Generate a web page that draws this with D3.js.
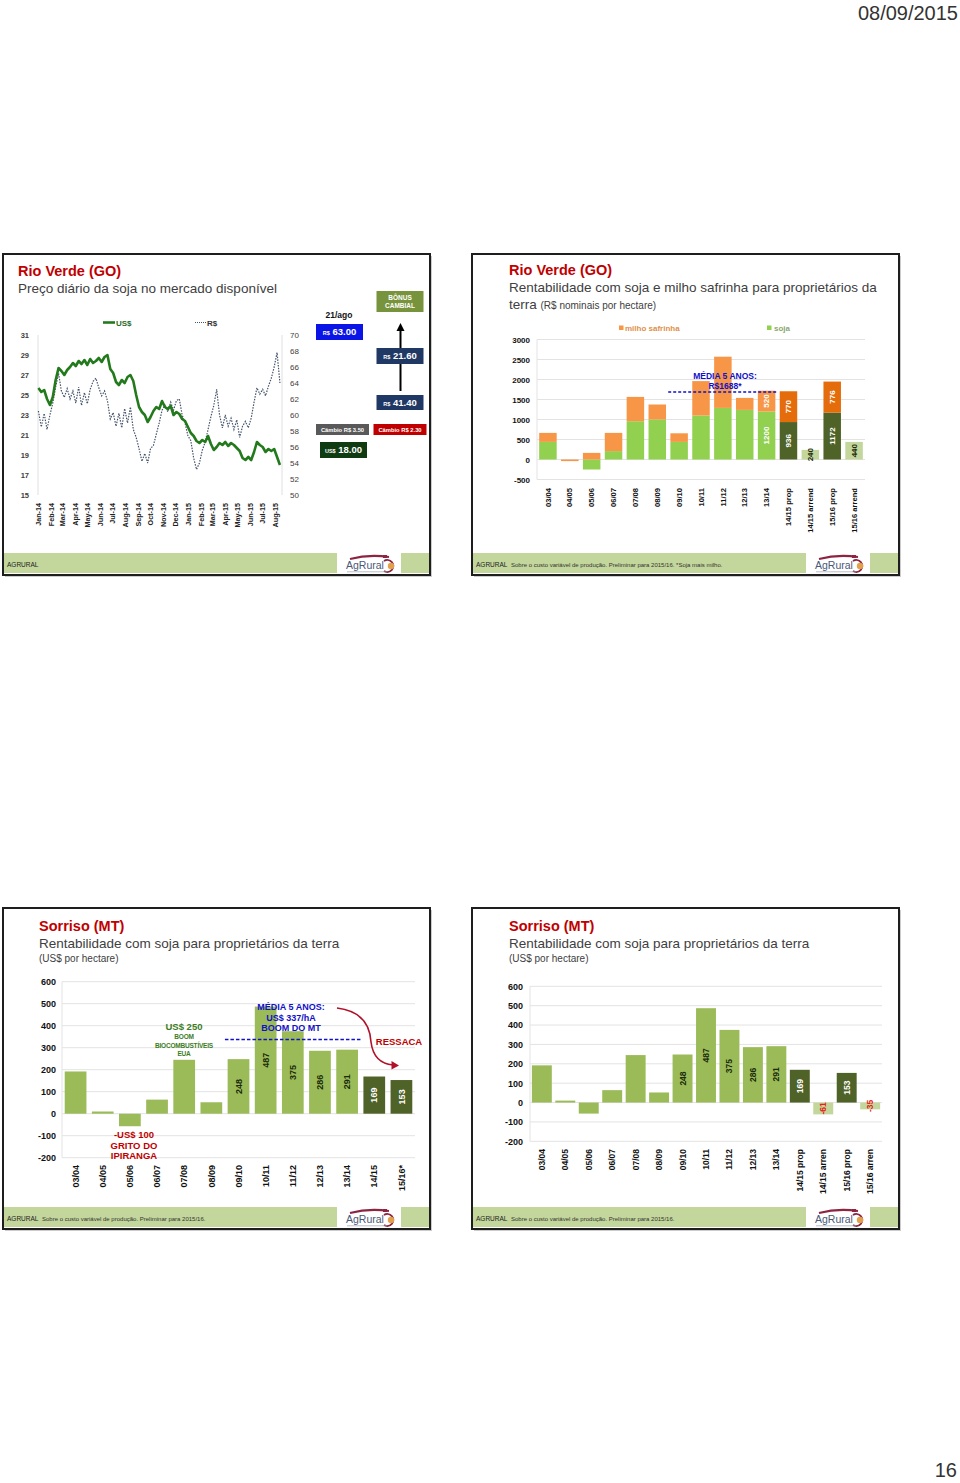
<!DOCTYPE html>
<html>
<head>
<meta charset="utf-8">
<script src="https://cdn.jsdelivr.net/npm/d3@7"></script>
<style>
  body { margin: 0; background: #fff; }
  svg { display: block; font-family: Arial, "Liberation Sans", sans-serif; }
</style>
</head>
<body>
<svg id="page" width="960" height="1483"></svg>
<script>
// ---- data ----
const pageDate = '08/09/2015'
const pageNumber = '16'

// slide 1: daily price (sampled weekly), from 2 Jan 2014
const months = ['Jan-14','Feb-14','Mar-14','Apr-14','May-14','Jun-14','Jul-14','Aug-14','Sep-14','Oct-14',
  'Nov-14','Dec-14','Jan-15','Feb-15','Mar-15','Apr-15','May-15','Jun-15','Jul-15','Aug-15']
const usdWeekly = [25.7,25.3,25.5,24.6,24.0,24.8,26.5,27.7,27.4,27.0,
  27.5,27.8,28.2,27.9,28.4,28.1,28.5,28.0,28.6,28.2,
  28.4,28.7,28.3,28.8,29.0,27.6,27.2,26.3,26.0,26.5,
  26.2,26.8,27.0,26.4,25.0,23.8,23.3,23.0,22.3,22.8,
  23.4,23.8,23.6,24.4,23.8,23.6,23.9,23.0,23.3,23.1,
  22.6,22.4,21.8,21.2,20.9,20.4,20.2,20.5,20.3,20.9,
  20.1,19.5,19.8,20.2,20.0,20.3,19.9,20.2,20.0,19.7,
  19.4,18.7,18.5,18.8,18.5,19.3,20.3,20.0,19.8,19.3,
  19.6,19.4,19.6,18.8,18.0]
const brlWeekly = [60.5,58.5,60.2,58.2,60.0,61.5,63.5,65.2,63.0,62.2,
  63.3,62.0,63.0,61.5,63.5,61.2,62.8,61.4,63.2,64.2,
  64.6,63.4,62.4,63.0,61.8,59.5,60.3,58.6,60.2,58.4,
  60.8,59.0,61.0,58.2,57.2,55.8,54.2,55.2,54.0,55.8,
  56.2,57.6,59.0,60.6,61.2,60.4,61.6,60.6,61.8,62.0,
  60.0,59.0,57.4,56.8,54.6,53.2,54.0,55.6,56.6,58.2,
  59.8,61.2,63.2,60.0,58.4,60.0,58.6,59.6,58.2,59.4,
  57.2,58.6,59.2,58.4,59.6,61.6,63.4,62.6,63.2,62.4,
  63.6,64.6,66.0,67.8,64.0]
const usdTicks = [15,17,19,21,23,25,27,29,31]
const brlTicks = [50,52,54,56,58,60,62,64,66,68,70]

// slide 2: Rio Verde, R$/ha
const rvSeasons = ['03/04','04/05','05/06','06/07','07/08','08/09','09/10','10/11','11/12','12/13','13/14',
  '14/15 prop','14/15 arrend','15/16 prop','15/16 arrend']
const rvSoja  = [440, 0, -250, 210, 957, 1000, 440, 1100, 1290, 1240, 1200, 936, 240, 1172, 440]
const rvMilho = [225, -40, 165, 455, 608, 375, 215, 860, 1280, 300, 520, 770, 0, 776, 0]
const rvKind  = ['h','h','h','h','h','h','h','h','h','h','h','prop','arrend','prop','arrend']
const rvLabeled = ['13/14','14/15 prop','14/15 arrend','15/16 prop','15/16 arrend']
const rvTicks = [-500,0,500,1000,1500,2000,2500,3000]
const rvMedia = 1688

// slide 3: Sorriso, US$/ha
const srSeasons = ['03/04','04/05','05/06','06/07','07/08','08/09','09/10','10/11','11/12','12/13','13/14','14/15','15/16*']
const srValues  = [192, 10, -57, 64, 245, 52, 248, 487, 375, 286, 291, 169, 153]
const srKind    = ['h','h','h','h','h','h','h','h','h','h','h','prop','prop']
const srMedia = 337

// slide 4: Sorriso, prop vs arren
const sr2Seasons = ['03/04','04/05','05/06','06/07','07/08','08/09','09/10','10/11','11/12','12/13','13/14',
  '14/15 prop','14/15 arren','15/16 prop','15/16 arren']
const sr2Values  = [192, 10, -57, 64, 245, 52, 248, 487, 375, 286, 291, 169, -61, 153, -35]
const sr2Kind    = ['h','h','h','h','h','h','h','h','h','h','h','prop','arrend','prop','arrend']
const srTicks = [-200,-100,0,100,200,300,400,500,600]
const labeledFrom = '09/10'

// ---- drawing ----
const svg = d3.select('#page')
const font = 'Arial, "Liberation Sans", sans-serif'
const red = '#c00000'
const blue = '#1010c8'
const plain = d => String(d).replace('\u2212', '-')

svg.append('text').attr('x', 958).attr('y', 20).attr('text-anchor', 'end')
  .attr('font-size', 20).attr('fill', '#333').text(pageDate)
svg.append('text').attr('x', 957).attr('y', 1477).attr('text-anchor', 'end')
  .attr('font-size', 20).attr('fill', '#333').text(pageNumber)

logo = (g, x, y) => {
  g.append('rect').attr('x', x).attr('y', y).attr('width', 64).attr('height', 21).attr('fill', '#fff')
  g.append('path')
    .attr('d', `M${x+13},${y+6} Q${x+32},${y+1} ${x+52},${y+4}`)
    .attr('fill', 'none').attr('stroke', '#8c2442').attr('stroke-width', 2)
  g.append('rect').attr('x', x+46).attr('y', y+2).attr('width', 4).attr('height', 3).attr('fill', '#8c2442')
  g.append('text').attr('x', x+9).attr('y', y+16).attr('font-size', 10.5)
    .attr('fill', '#4a5878').text('AgRural')
  g.append('path')
    .attr('d', `M${x+47},${y+8} A6,6 0 1,1 ${x+47},${y+18}`)
    .attr('fill', 'none').attr('stroke', '#8c2442').attr('stroke-width', 1.8)
  g.append('circle').attr('cx', x+54).attr('cy', y+13).attr('r', 3.2).attr('fill', '#e2a04a')
  g.append('line').attr('x1', x+10).attr('x2', x+50).attr('y1', y+18.8).attr('y2', y+18.8)
    .attr('stroke', '#9aa3b5').attr('stroke-width', 0.7)
}

slide = (x0, y0, footer, logoX) => {
  const g = svg.append('g')
  g.append('rect').attr('x', x0+2).attr('y', y0+2).attr('width', 427).attr('height', 321).attr('fill', '#ccc')
  g.append('rect').attr('x', x0).attr('y', y0).attr('width', 427).attr('height', 321)
    .attr('fill', '#fff').attr('stroke', '#1e1e1e').attr('stroke-width', 2)
  g.append('rect').attr('x', x0+1).attr('y', y0+299).attr('width', 425).attr('height', 20).attr('fill', '#c3d69b')
  g.append('text').attr('x', x0+4).attr('y', y0+313).attr('font-size', 6.5).attr('fill', '#222').text('AGRURAL')
  if (footer) {
    g.append('text').attr('x', x0+39).attr('y', y0+313).attr('font-size', 6)
      .attr('fill', '#333').text(footer)
  }
  logo(g, logoX, y0+299)
  return g
}

titles = (g, x, y, title, sub) => {
  g.append('text').attr('x', x).attr('y', y).attr('font-size', 14.5).attr('font-weight', 'bold')
    .attr('fill', red).text(title)
  g.append('text').attr('x', x).attr('y', y+17).attr('font-size', 13.5).attr('fill', '#404040').text(sub)
}

// ===== slide 1 =====
const s1 = slide(3, 254, null, 337)
titles(s1, 18, 276, 'Rio Verde (GO)', 'Preço diário da soja no mercado disponível')

const x1 = d3.scaleTime().domain([new Date(2014, 0, 1), new Date(2015, 7, 1)]).range([38, 275])
const yL = d3.scaleLinear().domain([15, 31]).range([495, 335])
const yR = d3.scaleLinear().domain([50, 70]).range([495, 335])
const start = new Date(2014, 0, 2)
const usdSeries = usdWeekly.map((v, i) => ({ date: d3.timeDay.offset(start, 7 * i), v }))
const brlSeries = brlWeekly.map((v, i) => ({ date: d3.timeDay.offset(start, 7 * i), v }))

s1.append('line').attr('x1', 38).attr('x2', 38).attr('y1', 335).attr('y2', 495).attr('stroke', '#e0e0e0')
s1.append('line').attr('x1', 282).attr('x2', 282).attr('y1', 335).attr('y2', 495).attr('stroke', '#e0e0e0')

const axL = s1.append('g').attr('transform', 'translate(38,0)')
  .call(d3.axisLeft(yL).tickValues(usdTicks).tickFormat(plain).tickSize(0).tickPadding(9))
axL.select('.domain').remove()
axL.selectAll('text').attr('font-size', 7.5).attr('font-weight', 'bold').attr('font-family', font).attr('fill', '#404040')

const axR = s1.append('g').attr('transform', 'translate(282,0)')
  .call(d3.axisRight(yR).tickValues(brlTicks).tickFormat(plain).tickSize(0).tickPadding(8))
axR.select('.domain').remove()
axR.selectAll('text').attr('font-size', 8).attr('font-family', font).attr('fill', '#404040')

const axX1 = s1.append('g').attr('transform', 'translate(0,496)')
  .call(d3.axisBottom(x1).tickValues(d3.timeMonth.range(new Date(2014, 0, 1), new Date(2015, 8, 1)))
    .tickFormat((d, i) => months[i]).tickSize(0))
axX1.select('.domain').remove()
axX1.selectAll('text')
  .attr('transform', 'rotate(-90)').attr('text-anchor', 'end')
  .attr('x', -7).attr('y', 0).attr('dy', '0.35em')
  .attr('font-size', 7.2).attr('font-weight', 'bold').attr('font-family', font).attr('fill', '#222')

s1.append('path').datum(brlSeries)
  .attr('d', d3.line().x(d => x1(d.date)).y(d => yR(d.v)))
  .attr('fill', 'none').attr('stroke', '#44546a').attr('stroke-width', 1.2).attr('stroke-dasharray', '1.5,1.3')
s1.append('path').datum(usdSeries)
  .attr('d', d3.line().x(d => x1(d.date)).y(d => yL(d.v)))
  .attr('fill', 'none').attr('stroke', '#237a1d').attr('stroke-width', 2.6).attr('stroke-linejoin', 'round')

// legend
s1.append('line').attr('x1', 103).attr('x2', 115).attr('y1', 322.5).attr('y2', 322.5)
  .attr('stroke', '#237a1d').attr('stroke-width', 2.6)
s1.append('text').attr('x', 116).attr('y', 325.5).attr('font-size', 8).attr('font-weight', 'bold')
  .attr('fill', '#2a6a1f').text('US$')
s1.append('line').attr('x1', 195).attr('x2', 206).attr('y1', 322.5).attr('y2', 322.5)
  .attr('stroke', '#44546a').attr('stroke-width', 1).attr('stroke-dasharray', '1,1')
s1.append('text').attr('x', 207).attr('y', 325.5).attr('font-size', 8).attr('font-weight', 'bold')
  .attr('fill', '#333').text('R$')

// annotation boxes
moneyBox = (g, x, y, w, h, fill, cur, val) => {
  g.append('rect').attr('x', x).attr('y', y).attr('width', w).attr('height', h).attr('fill', fill)
  const t = g.append('text').attr('x', x + w / 2).attr('y', y + h / 2 + 3.4).attr('text-anchor', 'middle')
    .attr('fill', '#fff').attr('font-weight', 'bold')
  t.append('tspan').attr('font-size', 5.5).text(cur)
  t.append('tspan').attr('font-size', 9.5).text(' ' + val)
}
smallBox = (g, x, y, w, h, fill, lines) => {
  g.append('rect').attr('x', x).attr('y', y).attr('width', w).attr('height', h).attr('fill', fill)
  lines.forEach((s, i) => {
    g.append('text').attr('x', x + w / 2).attr('y', y + 7.5 + i * 8.5 + (lines.length === 1 ? 0 : 1))
      .attr('text-anchor', 'middle').attr('font-size', lines.length === 1 ? 5.8 : 6.5).attr('font-weight', 'bold')
      .attr('fill', '#fff').text(s)
  })
}

s1.append('text').attr('x', 339).attr('y', 318).attr('text-anchor', 'middle').attr('font-size', 8.5)
  .attr('font-weight', 'bold').attr('fill', '#111').text('21/ago')
moneyBox(s1, 316, 324, 47, 16, '#0a14e6', 'R$', '63.00')
smallBox(s1, 376.5, 291, 47, 21, '#77933c', ['BÔNUS', 'CAMBIAL'])
s1.append('line').attr('x1', 400.5).attr('x2', 400.5).attr('y1', 391).attr('y2', 329)
  .attr('stroke', '#000').attr('stroke-width', 2)
s1.append('path').attr('d', 'M400.5,323 L396.5,331 L404.5,331 Z').attr('fill', '#000')
moneyBox(s1, 376.5, 348, 47, 16, '#1f3864', 'R$', '21.60')
moneyBox(s1, 376.5, 395, 47, 15, '#1f3864', 'R$', '41.40')
smallBox(s1, 316, 424, 53, 11, '#595959', ['Câmbio R$ 3.50'])
smallBox(s1, 373.5, 424, 53, 11, red, ['Câmbio R$ 2.30'])
moneyBox(s1, 320, 442, 47, 16, '#0e3b12', 'US$', '18.00')

// ===== bar helpers =====
yAxisGrid = (g, y, ticks, x0, x1r, size, pad) => {
  g.append('g').selectAll('line').data(ticks).join('line')
    .attr('x1', x0).attr('x2', x1r).attr('y1', d => y(d)).attr('y2', d => y(d))
    .attr('stroke', '#e3e3e3')
  g.append('line').attr('x1', x0).attr('x2', x0).attr('y1', y(ticks[0])).attr('y2', y(ticks[ticks.length - 1]))
    .attr('stroke', '#e3e3e3')
  const ax = g.append('g').attr('transform', `translate(${x0},0)`)
    .call(d3.axisLeft(y).tickValues(ticks).tickFormat(plain).tickSize(0).tickPadding(pad))
  ax.select('.domain').remove()
  ax.selectAll('text').attr('font-size', size).attr('font-weight', 'bold').attr('font-family', font).attr('fill', '#111')
}
xAxisRot = (g, x, yPos, size) => {
  const ax = g.append('g').attr('transform', `translate(0,${yPos})`)
    .call(d3.axisBottom(x).tickSize(0))
  ax.select('.domain').remove()
  ax.selectAll('text')
    .attr('transform', 'rotate(-90)').attr('text-anchor', 'end')
    .attr('x', 0).attr('y', 0).attr('dy', '0.35em')
    .attr('font-size', size).attr('font-weight', 'bold').attr('font-family', font).attr('fill', '#111')
}
barLabel = (g, cx, cy, txt, fill, size) => {
  g.append('text').attr('transform', `translate(${cx},${cy}) rotate(-90)`)
    .attr('text-anchor', 'middle').attr('dy', '0.35em')
    .attr('font-size', size).attr('font-weight', 'bold').attr('fill', fill).text(txt)
}

// ===== slide 2 =====
const s2 = slide(472, 254, 'Sobre o custo variável de produção. Preliminar para 2015/16. *Soja mais milho.', 806)
titles(s2, 509, 275, 'Rio Verde (GO)', 'Rentabilidade com soja e milho safrinha para proprietários da')
const sub2 = s2.append('text').attr('x', 509).attr('y', 309).attr('fill', '#404040')
sub2.append('tspan').attr('font-size', 13.5).text('terra ')
sub2.append('tspan').attr('font-size', 10).text('(R$ nominais por hectare)')

const xRv = d3.scaleBand().domain(rvSeasons).range([537, 865]).paddingInner(0.2).paddingOuter(0.1)
const yRv = d3.scaleLinear().domain([-500, 3000]).range([479.5, 339.5])
yAxisGrid(s2, yRv, rvTicks, 537, 865, 8, 7)

const rvRows = rvSeasons.map((s, i) => ({ season: s, soja: rvSoja[i], milho: rvMilho[i], kind: rvKind[i] }))
const rvStack = d3.stack().keys(['soja', 'milho']).offset(d3.stackOffsetDiverging)(rvRows)
const rvColor = {
  soja: { h: '#92d050', prop: '#4f6228', arrend: '#c3d69b' },
  milho: { h: '#f79646', prop: '#e46c0a', arrend: '#f79646' }
}
rvStack.forEach(layer => {
  s2.append('g').selectAll('rect').data(layer).join('rect')
    .attr('x', d => xRv(d.data.season)).attr('width', xRv.bandwidth())
    .attr('y', d => yRv(Math.max(d[0], d[1])))
    .attr('height', d => Math.abs(yRv(d[0]) - yRv(d[1])))
    .attr('fill', d => rvColor[layer.key][d.data.kind])
  layer.forEach(d => {
    const v = d.data[layer.key]
    if (v !== 0 && rvLabeled.includes(d.data.season)) {
      const dark = d.data.kind === 'arrend'
      barLabel(s2, xRv(d.data.season) + xRv.bandwidth() / 2, yRv((d[0] + d[1]) / 2), v,
        dark ? '#1a2a0a' : '#fff', 8)
    }
  })
})
xAxisRot(s2, xRv, 488, 7.6)

// legend
s2.append('rect').attr('x', 619).attr('y', 325.5).attr('width', 4.5).attr('height', 4.5).attr('fill', '#f79646')
s2.append('text').attr('x', 625).attr('y', 331).attr('font-size', 8).attr('font-weight', 'bold')
  .attr('fill', '#e0904a').text('milho safrinha')
s2.append('rect').attr('x', 767).attr('y', 325.5).attr('width', 4.5).attr('height', 4.5).attr('fill', '#92d050')
s2.append('text').attr('x', 774).attr('y', 331).attr('font-size', 8).attr('font-weight', 'bold')
  .attr('fill', '#8aa870').text('soja')

// average line
s2.append('line')
  .attr('x1', xRv('09/10') - xRv.step() * 0.1).attr('x2', xRv('13/14') + xRv.bandwidth() + xRv.step() * 0.1)
  .attr('y1', yRv(rvMedia)).attr('y2', yRv(rvMedia))
  .attr('stroke', blue).attr('stroke-width', 1.3).attr('stroke-dasharray', '3,2')
s2.append('text').attr('x', 725).attr('y', 378.5).attr('text-anchor', 'middle').attr('font-size', 8.5)
  .attr('font-weight', 'bold').attr('fill', blue).text('MÉDIA 5 ANOS:')
s2.append('text').attr('x', 725).attr('y', 388.5).attr('text-anchor', 'middle').attr('font-size', 8.5)
  .attr('font-weight', 'bold').attr('fill', blue).text('R$' + rvMedia + '*')

// ===== slide 3 =====
const s3 = slide(3, 908, 'Sobre o custo variável de produção. Preliminar para 2015/16.', 337)
titles(s3, 39, 931, 'Sorriso (MT)', 'Rentabilidade com soja para proprietários da terra')
s3.append('text').attr('x', 39).attr('y', 962).attr('font-size', 10).attr('fill', '#404040').text('(US$ por hectare)')

const srColor = { h: '#9bbb59', prop: '#4f6228', arrend: '#c3d69b' }
const xSr = d3.scaleBand().domain(srSeasons).range([62, 415]).paddingInner(0.2).paddingOuter(0.1)
const ySr = d3.scaleLinear().domain([-200, 600]).range([1157.7, 981.7])
yAxisGrid(s3, ySr, srTicks, 62, 415, 9, 6)
const srRows = srSeasons.map((s, i) => ({ season: s, v: srValues[i], kind: srKind[i] }))
s3.append('g').selectAll('rect').data(srRows).join('rect')
  .attr('x', d => xSr(d.season)).attr('width', xSr.bandwidth())
  .attr('y', d => ySr(Math.max(0, d.v))).attr('height', d => Math.abs(ySr(d.v) - ySr(0)))
  .attr('fill', d => srColor[d.kind])
srRows.forEach((d, i) => {
  if (i >= srSeasons.indexOf(labeledFrom)) {
    barLabel(s3, xSr(d.season) + xSr.bandwidth() / 2, (ySr(d.v) + ySr(0)) / 2, d.v,
      d.kind === 'prop' ? '#fff' : '#1a2a0a', 9)
  }
})
xAxisRot(s3, xSr, 1165, 9)

s3.append('line')
  .attr('x1', xSr('09/10') - xSr.step() * 0.1).attr('x2', xSr('13/14') + xSr.bandwidth() + xSr.step() * 0.1)
  .attr('y1', ySr(srMedia)).attr('y2', ySr(srMedia))
  .attr('stroke', blue).attr('stroke-width', 1.5).attr('stroke-dasharray', '3.5,2')
const green = '#3c7d1e'
const srNotes = [
  { x: 184, y: 1030, s: 9.5, c: green, t: 'US$ 250' },
  { x: 184, y: 1039, s: 6.5, c: green, t: 'BOOM' },
  { x: 184, y: 1047.5, s: 6.5, c: green, t: 'BIOCOMBUSTÍVEIS' },
  { x: 184, y: 1056, s: 6.5, c: green, t: 'EUA' },
  { x: 134, y: 1138, s: 9.5, c: red, t: '-US$ 100' },
  { x: 134, y: 1148.5, s: 9.5, c: red, t: 'GRITO DO' },
  { x: 134, y: 1159, s: 9.5, c: red, t: 'IPIRANGA' },
  { x: 291, y: 1010, s: 9, c: blue, t: 'MÉDIA 5 ANOS:' },
  { x: 291, y: 1020.5, s: 9, c: blue, t: 'US$ ' + srMedia + '/hA' },
  { x: 291, y: 1031, s: 9, c: blue, t: 'BOOM DO MT' },
  { x: 399, y: 1045, s: 9.5, c: red, t: 'RESSACA' }
]
srNotes.forEach(n => {
  s3.append('text').attr('x', n.x).attr('y', n.y).attr('text-anchor', 'middle').attr('font-size', n.s)
    .attr('font-weight', 'bold').attr('fill', n.c).attr('letter-spacing', n.s < 7 ? -0.2 : 0).text(n.t)
})
s3.append('path').attr('d', 'M337,1008 C362,1011 370,1025 371,1042 C373,1058 382,1064 393,1065')
  .attr('fill', 'none').attr('stroke', '#b0102a').attr('stroke-width', 1.6)
s3.append('path').attr('d', 'M399,1065.5 L391.5,1061 L391.5,1069.5 Z').attr('fill', '#b0102a')

// ===== slide 4 =====
const s4 = slide(472, 908, 'Sobre o custo variável de produção. Preliminar para 2015/16.', 806)
titles(s4, 509, 931, 'Sorriso (MT)', 'Rentabilidade com soja para proprietários da terra')
s4.append('text').attr('x', 509).attr('y', 962).attr('font-size', 10).attr('fill', '#404040').text('(US$ por hectare)')

const xSr2 = d3.scaleBand().domain(sr2Seasons).range([530, 882]).paddingInner(0.15).paddingOuter(0.08)
const ySr2 = d3.scaleLinear().domain([-200, 600]).range([1141.3, 986.3])
yAxisGrid(s4, ySr2, srTicks, 530, 882, 9, 7)
const sr2Rows = sr2Seasons.map((s, i) => ({ season: s, v: sr2Values[i], kind: sr2Kind[i] }))
s4.append('g').selectAll('rect').data(sr2Rows).join('rect')
  .attr('x', d => xSr2(d.season)).attr('width', xSr2.bandwidth())
  .attr('y', d => ySr2(Math.max(0, d.v))).attr('height', d => Math.abs(ySr2(d.v) - ySr2(0)))
  .attr('fill', d => srColor[d.kind])
sr2Rows.forEach((d, i) => {
  if (i >= sr2Seasons.indexOf(labeledFrom)) {
    const fill = d.kind === 'prop' ? '#fff' : (d.v < 0 ? '#e8201a' : '#1a2a0a')
    barLabel(s4, xSr2(d.season) + xSr2.bandwidth() / 2, (ySr2(d.v) + ySr2(0)) / 2, d.v, fill, 8.5)
  }
})
xAxisRot(s4, xSr2, 1149, 8.5)
</script>
</body>
</html>
